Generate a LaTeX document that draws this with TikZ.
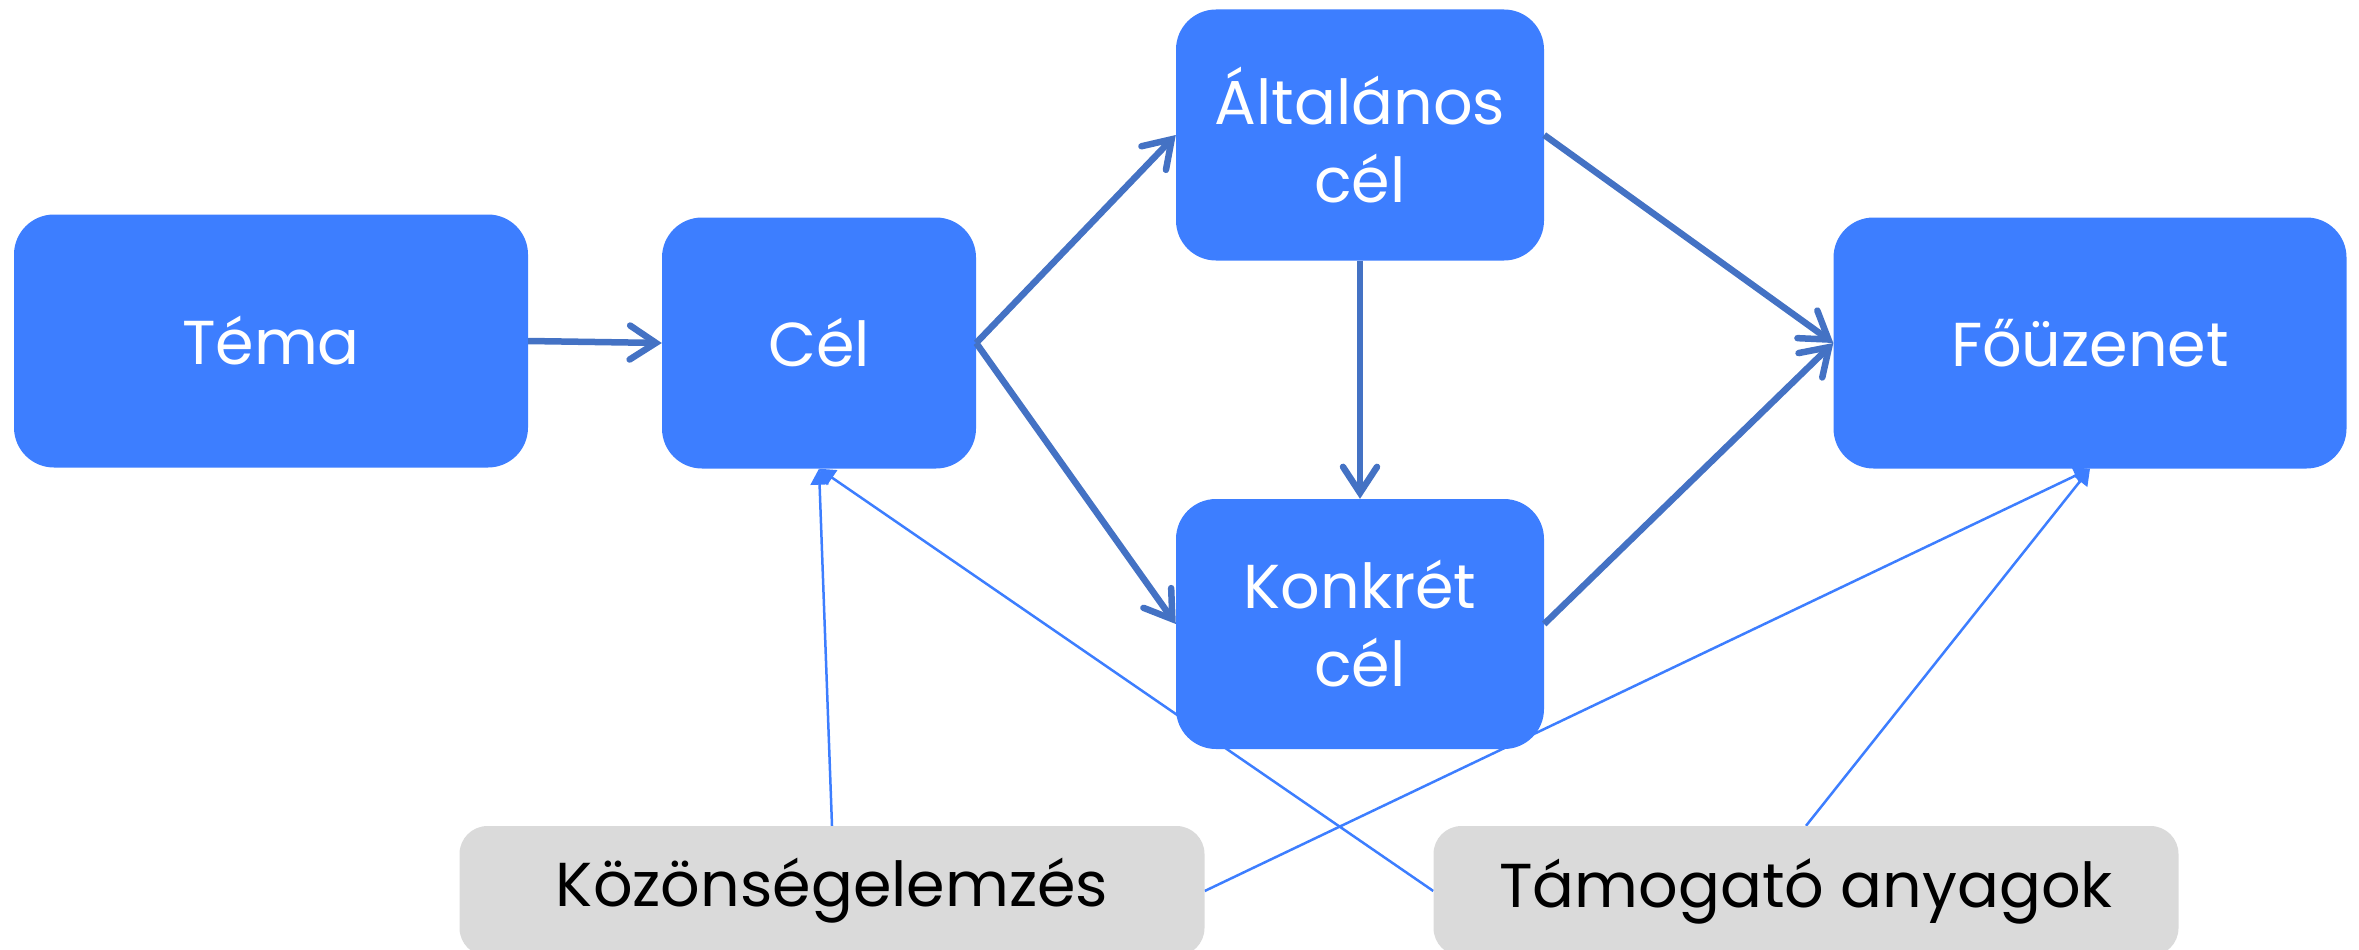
\documentclass[tikz,border=0pt]{standalone}
\usepackage{fontspec}
\setmainfont{Poppins}
\usetikzlibrary{arrows.meta,backgrounds}
\definecolor{boxblue}{RGB}{61,126,255}
\definecolor{arrowblue}{RGB}{68,114,196}
\definecolor{linkblue}{RGB}{61,126,255}
\definecolor{boxgray}{RGB}{218,218,218}
\begin{document}
\begin{tikzpicture}[x=1pt,y=-1pt,
  bluebox/.style={fill=boxblue, rounded corners=40pt, text=white,
    font=\fontsize{62}{78}\selectfont, align=center, inner sep=0pt},
  graybox/.style={fill=boxgray, rounded corners=28pt, text=black,
    font=\fontsize{62}{78}\selectfont, inner sep=0pt},
  mainarrow/.style={draw=arrowblue, line width=6.5pt,
    -{Straight Barb[length=26pt,width=34pt,line cap=round]}},
  link/.style={draw=linkblue, line width=2.5pt,
    -{Triangle[length=16pt,width=18pt]}}]
\useasboundingbox (0,0) rectangle (2359,950);
\node[bluebox, minimum width=514pt, minimum height=253pt] (tema) at (271,341) {Téma};
\node[bluebox, minimum width=314pt, minimum height=251pt] (cel) at (819,343) {Cél};
\node[bluebox, minimum width=368pt, minimum height=251pt] (alt) at (1360,135) {Általános\\cél};
\node[bluebox, minimum width=368pt, minimum height=250pt] (konk) at (1360,624) {Konkrét\\cél};
\node[bluebox, minimum width=513pt, minimum height=251pt] (fo) at (2090,343) {Főüzenet};
\node[graybox, minimum width=745pt, minimum height=130pt] (koz) at (832,891) {Közönségelemzés};
\node[graybox, minimum width=745pt, minimum height=130pt] (tam) at (1806,891) {Támogató anyagok};
\begin{scope}[on background layer]
  \draw[link] (koz.north) -- (cel.south);
  \draw[link] (tam.west) -- (cel.south);
  \draw[link] (koz.east) -- (fo.south);
  \draw[link] (tam.north) -- (fo.south);
\end{scope}
\draw[mainarrow] (tema.east) -- (cel.west);
\draw[mainarrow] (cel.east) -- (alt.west);
\draw[mainarrow] (cel.east) -- (konk.west);
\draw[mainarrow] (alt.south) -- (konk.north);
\draw[mainarrow] (alt.east) -- (fo.west);
\draw[mainarrow] (konk.east) -- (fo.west);
\end{tikzpicture}
\end{document}
